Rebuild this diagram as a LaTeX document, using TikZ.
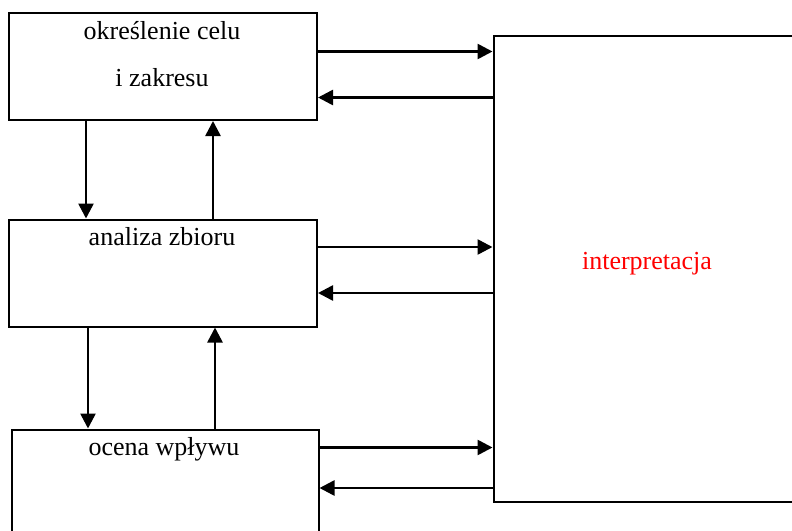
\documentclass[tikz,border=0pt]{standalone}
\usepackage{fontspec}
\setmainfont{Liberation Serif}
\usetikzlibrary{arrows.meta}
\begin{document}
\begin{tikzpicture}[x=1pt,y=-1pt,
  box/.style={draw=black,line width=2pt,rectangle,inner sep=0pt,anchor=north west},
  lbl/.style={anchor=base,inner sep=0pt,font=\fontsize{26}{30}\selectfont},
  arr/.style={line width=2.6pt,-{Triangle[length=15pt,width=15pt]}}]
\useasboundingbox (0,0) rectangle (792,530);
\node[box,minimum width=308pt,minimum height=107pt] (b1) at (8,12) {};
\node[box,minimum width=308pt,minimum height=107pt] (b2) at (8,218.5) {};
\node[box,minimum width=307pt,minimum height=110pt] (b3) at (10.5,428.5) {};
\node[box,minimum width=320pt,minimum height=466pt] (interp) at (492.5,35) {};
\node[lbl] (t1a) at (162,39) {określenie celu};
\node[lbl] (t1b) at (162,86) {i zakresu};
\node[lbl] (t2) at (162,245) {analiza zbioru};
\node[lbl] (t3) at (164,455) {ocena wpływu};
\node[lbl,text={rgb,255:red,255;green,0;blue,0}] (t4) at (647,269) {interpretacja};
% vertical arrows
\draw[arr] (b1.south -| 86,0) -- (b2.north -| 86,0);
\draw[arr] (b2.north -| 213,0) -- (b1.south -| 213,0);
\draw[arr] (b2.south -| 88,0) -- (b3.north -| 88,0);
\draw[arr] (b3.north -| 215,0) -- (b2.south -| 215,0);
% horizontal arrows
\draw[arr] (b1.east |- 0,51.5) -- (interp.west |- 0,51.5);
\draw[arr] (interp.west |- 0,97.5) -- (b1.east |- 0,97.5);
\draw[arr] (b2.east |- 0,247) -- (interp.west |- 0,247);
\draw[arr] (interp.west |- 0,293) -- (b2.east |- 0,293);
\draw[arr] (b3.east |- 0,447.5) -- (interp.west |- 0,447.5);
\draw[arr] (interp.west |- 0,488) -- (b3.east |- 0,488);
\end{tikzpicture}
\end{document}
